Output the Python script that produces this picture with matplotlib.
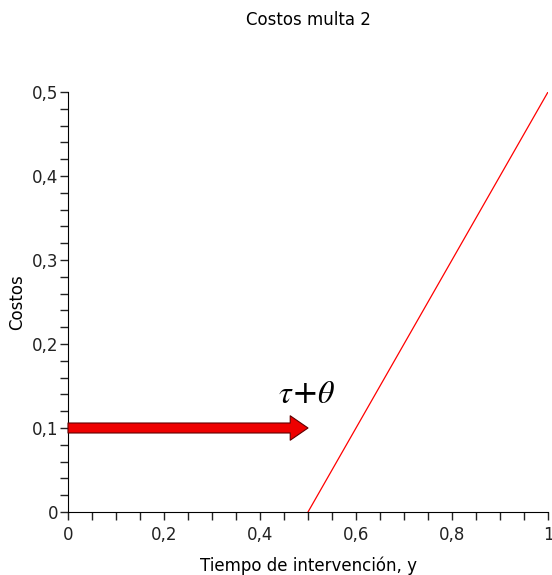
import numpy as np
import matplotlib
matplotlib.use("Agg")
from matplotlib import pyplot as plt
from matplotlib.ticker import MultipleLocator, FuncFormatter

# datos de la curva de costos
tiempo = [0.5, 1.0]
costos = [0.0, 0.5]
# flecha (desde 0 hasta tau+theta)
flecha_x = [0.0, 0.5]
flecha_y = 0.1

plt.rcParams['font.family'] = ['DejaVu Sans']

fig = plt.figure(figsize=(5.52, 5.75), dpi=100)
ax = fig.add_axes([68/552, 63/575, 480/552, 420/575])

ax.plot(tiempo, costos, color='red', linewidth=0.9)

ax.annotate('', xy=(flecha_x[1], flecha_y), xytext=(flecha_x[0], flecha_y),
            arrowprops=dict(arrowstyle='simple,head_length=0.8,head_width=1.1,tail_width=0.45',
                            fc='#ee0000', ec='#600000', lw=0.8, shrinkA=0, shrinkB=0,
                            mutation_scale=16))
ax.text(0.438, 0.122, r'$\tau$+$\theta$', fontsize=23, family='DejaVu Serif',
        ha='left', va='bottom', math_fontfamily='stix')

ax.set_xlim(0, 1)
ax.set_ylim(0, 0.5)
ax.xaxis.set_major_locator(MultipleLocator(0.2))
ax.xaxis.set_minor_locator(MultipleLocator(0.05))
ax.yaxis.set_major_locator(MultipleLocator(0.1))
ax.yaxis.set_minor_locator(MultipleLocator(0.02))

coma = FuncFormatter(lambda v, p: ('%g' % round(v, 2)).replace('.', ','))
ax.xaxis.set_major_formatter(coma)
ax.yaxis.set_major_formatter(coma)

ax.spines['top'].set_visible(False)
ax.spines['right'].set_visible(False)
ax.tick_params(which='both', direction='out', length=6, width=1, labelsize=12, colors='#222222')
ax.tick_params(axis='x', pad=4)
ax.tick_params(axis='y', pad=1)

ax.set_xlabel('Tiempo de intervención, y', fontsize=12, labelpad=9)
ax.set_ylabel('Costos', fontsize=12, labelpad=4)
fig.text(308/552, 1 - 20/575, 'Costos multa 2', ha='center', va='center', fontsize=12)

fig.savefig('out.png', dpi=100)
